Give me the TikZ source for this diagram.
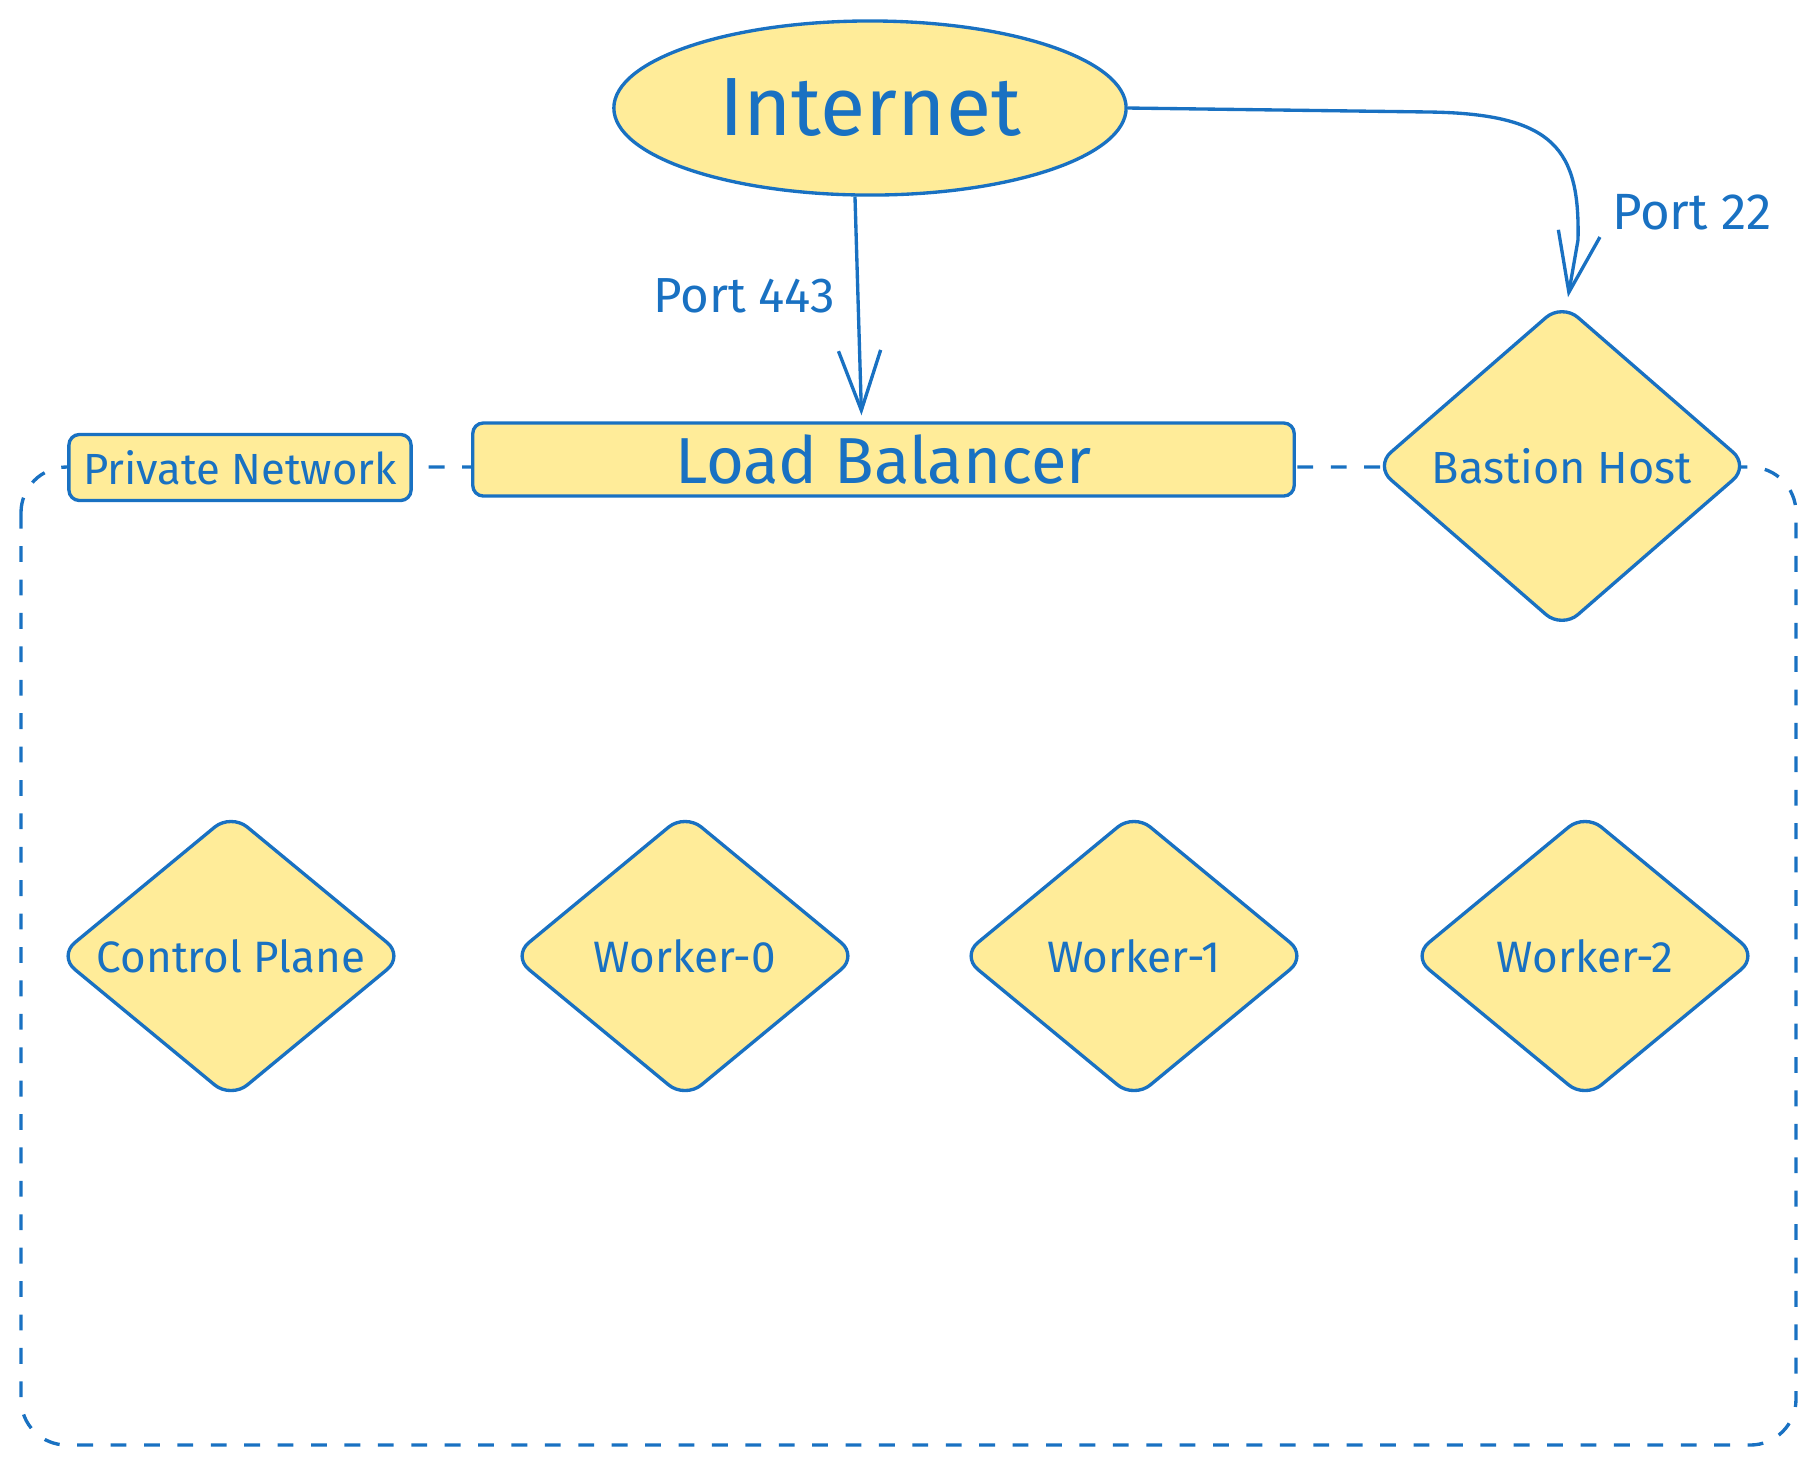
\documentclass[tikz,border=0pt]{standalone}
\usepackage{fontspec}
\setmainfont{Fira Sans}
\usetikzlibrary{shapes.geometric,arrows.meta}
\definecolor{strk}{HTML}{1971C2}
\definecolor{fillc}{HTML}{FFEC99}
\begin{document}
\begin{tikzpicture}[x=0.01cm,y=-0.01cm,
  base/.style={draw=strk, fill=fillc, line width=0.95pt, text=strk},
  rbox/.style={base, rectangle, rounded corners=3pt, inner sep=0pt},
  dia/.style={base, diamond, rounded corners=6pt, inner sep=0pt, aspect=1.2,
     minimum width=3.46cm, minimum height=2.86cm, font=\fontsize{12.5}{15}\selectfont},
  arr/.style={draw=strk, line width=0.95pt, -{Straight Barb[length=17pt,width=12pt]}},
  lbl/.style={text=strk, font=\fontsize{14}{16}\selectfont}]
\useasboundingbox (0,0) rectangle (1817,1465);
% private network container
\draw[strk, line width=0.95pt, dash pattern=on 4.5pt off 5pt, rounded corners=13pt]
  (21,467) rectangle (1796,1445);
% nodes
\node[base, ellipse, minimum width=5.12cm, minimum height=1.74cm, inner sep=0pt,
  font=\fontsize{23.5}{27}\selectfont] (inet) at (870,108) {Internet};
\node[rbox, minimum width=8.21cm, minimum height=0.73cm,
  font=\fontsize{18.5}{21}\selectfont] (lb) at (883.5,459.5) {Load Balancer};
\node[rbox, minimum width=3.42cm, minimum height=0.66cm,
  font=\fontsize{12.4}{15}\selectfont] (pn) at (240,467.5) {Private Network};
\node[dia, minimum width=3.75cm, minimum height=3.26cm,
  font=\fontsize{12.8}{15}\selectfont] (bast) at (1562,466) {Bastion Host};
\node[dia] (cp) at (231,956) {Control Plane};
\node[dia] (w0) at (685,956) {Worker-0};
\node[dia] (w1) at (1134,956) {Worker-1};
\node[dia] (w2) at (1585,956) {Worker-2};
% connectors
\draw[arr] ([xshift=-0.15cm]inet.south) -- ([xshift=-0.22cm,yshift=0.06cm]lb.north);
\draw[arr] (inet.east) -- (1430,112) .. controls (1555,114) and (1580,150) .. (1578,240)
  -- ([xshift=0.06cm,yshift=0.04cm]bast.north);
% labels
\node[lbl] (p443) at (744,296) {Port 443};
\node[lbl, font=\fontsize{14.5}{16}\selectfont] (p22) at (1692,212) {Port 22};
\end{tikzpicture}
\end{document}
